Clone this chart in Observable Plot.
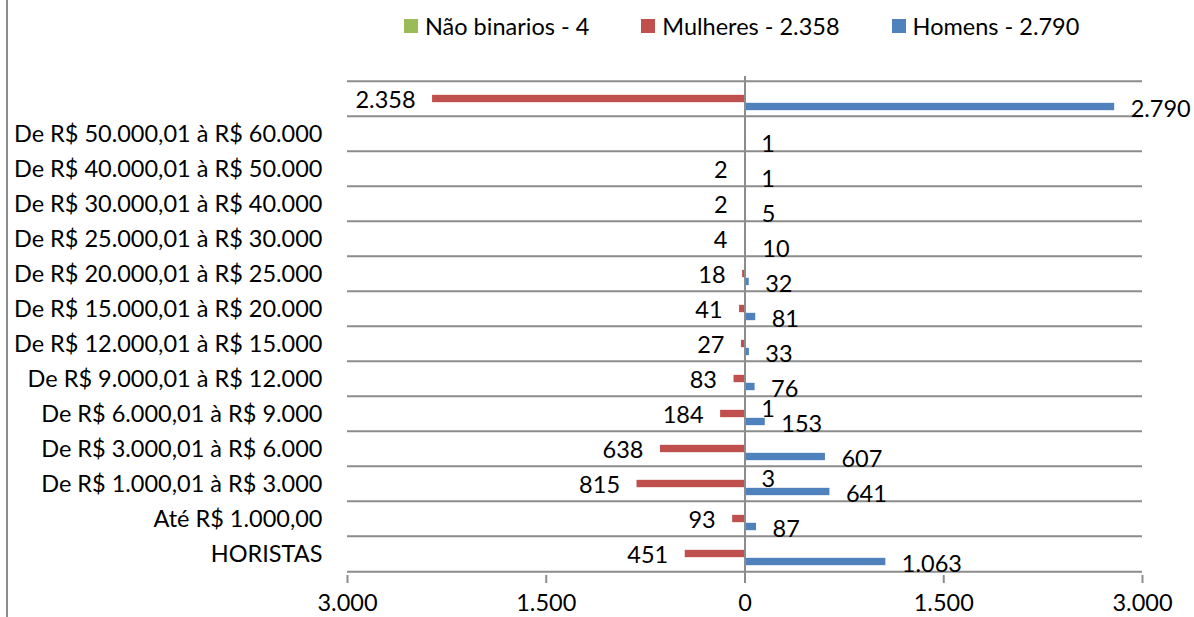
<!DOCTYPE html>
<html>
<head>
<meta charset="utf-8">
<script src="https://cdn.jsdelivr.net/npm/d3@7"></script>
<script src="https://cdn.jsdelivr.net/npm/@observablehq/plot@0.6"></script>
<style>
  html, body { margin: 0; padding: 0; background: #fff; }
  body { width: 1194px; height: 617px; position: relative; overflow: hidden; font-family: Lato, "Noto Sans", sans-serif; }
  #border { position: absolute; left: 6px; top: 0; width: 2px; height: 617px; background: #8c8c8c; }
  #legend { height: 50px; display: flex; align-items: center; padding-left: 404px; gap: 52px; font-size: 23.5px; color: #000; box-sizing: border-box; padding-top: 2px; }
  .item { display: flex; align-items: center; gap: 7px; }
  .sw { width: 14px; height: 14px; display: inline-block; }
  svg { display: block; }
</style>
</head>
<body>
<div id="border"></div>
<div id="legend"></div>
<div id="chart"></div>
<script>
// ---- data ----
const categories = [
  "TOTAL",
  "De R$ 50.000,01 à R$ 60.000",
  "De R$ 40.000,01 à R$ 50.000",
  "De R$ 30.000,01 à R$ 40.000",
  "De R$ 25.000,01 à R$ 30.000",
  "De R$ 20.000,01 à R$ 25.000",
  "De R$ 15.000,01 à R$ 20.000",
  "De R$ 12.000,01 à R$ 15.000",
  "De R$ 9.000,01 à R$ 12.000",
  "De R$ 6.000,01 à R$ 9.000",
  "De R$ 3.000,01 à R$ 6.000",
  "De R$ 1.000,01 à R$ 3.000",
  "Até R$ 1.000,00",
  "HORISTAS"
];
const mulheres = [2358, null, 2, 2, 4, 18, 41, 27, 83, 184, 638, 815, 93, 451];
const homens   = [2790, 1, 1, 5, 10, 32, 81, 33, 76, 153, 607, 641, 87, 1063];
const naoBinarios = [null, null, null, null, null, null, null, null, null, 1, null, 3, null, null];
const seriesNames = ["Não binarios - 4", "Mulheres - 2.358", "Homens - 2.790"];
const seriesColors = ["#9BBB59", "#C0504D", "#4F81BD"];
const xTicks = [-3000, -1500, 0, 1500, 3000];

// ---- legend ----
const legend = document.getElementById("legend");
seriesNames.forEach((name, i) => {
  const it = document.createElement("div");
  it.className = "item";
  it.innerHTML = `<span class="sw" style="background:${seriesColors[i]}"></span><span>${name}</span>`;
  legend.appendChild(it);
});

// ---- table ----
const rowsM = categories.map((c, i) => ({cat: c, v: mulheres[i]})).filter(d => d.v != null);
const rowsH = categories.map((c, i) => ({cat: c, v: homens[i]})).filter(d => d.v != null);
const rowsN = categories.map((c, i) => ({cat: c, v: naoBinarios[i]})).filter(d => d.v != null);

const fmt = d3.formatLocale({decimal: ",", thousands: ".", grouping: [3], currency: ["R$", ""]}).format(",d");

const W = 1194, H = 567, mT = 26, mB = 42, mL = 347, mR = 52;
const bw = (H - mT - mB) / categories.length;
const grid = "#8c8c8c";
const fontSize = 23.5;

const chart = Plot.plot({
  width: W, height: H,
  marginTop: mT, marginBottom: mB, marginLeft: mL, marginRight: mR,
  style: {fontFamily: "Lato, 'Noto Sans', sans-serif", fontSize: fontSize + "px", color: "#000", background: "#fff", overflow: "visible"},
  x: {domain: [-3000, 3000]},
  y: {domain: categories, padding: 0},
  marks: [
    Plot.ruleY(categories, {y: d => d, dy: -bw / 2, stroke: grid, strokeWidth: 2}),
    Plot.ruleY([categories[categories.length - 1]], {y: d => d, dy: bw / 2, stroke: grid, strokeWidth: 2}),
    Plot.barX(rowsN, {x1: 0, x2: d => d.v, y: "cat", fill: seriesColors[0], insetTop: bw / 2 - 12, insetBottom: bw / 2 + 4}),
    Plot.barX(rowsM, {x1: 0, x2: d => -d.v, y: "cat", fill: seriesColors[1], insetTop: bw / 2 - 4, insetBottom: bw / 2 - 4}),
    Plot.barX(rowsH, {x1: 0, x2: d => d.v, y: "cat", fill: seriesColors[2], insetTop: bw / 2 + 4, insetBottom: bw / 2 - 12}),
    Plot.ruleX([0], {stroke: grid, strokeWidth: 2}),
    Plot.text(rowsM, {x: d => -d.v, y: "cat", text: d => fmt(d.v), textAnchor: "end", dx: -17, dy: 1.5, fill: "#000", fontSize}),
    Plot.text(rowsH, {x: d => d.v, y: "cat", text: d => fmt(d.v), textAnchor: "start", dx: 16, dy: 10, fill: "#000", fontSize}),
    Plot.text(rowsN, {x: d => d.v, y: "cat", text: d => fmt(d.v), textAnchor: "start", dx: 16, dy: -5, fill: "#000", fontSize}),
    Plot.axisY({tickSize: 0, tickPadding: 25, label: null, tickFormat: d => d === "TOTAL" ? "" : d, fontSize, fill: "#000"}),
    Plot.axisX({ticks: xTicks, label: null, tickFormat: d => fmt(Math.abs(d)), tickSize: 8, tickPadding: 11, stroke: grid, strokeWidth: 2, fontSize, fill: "#000"})
  ]
});
document.getElementById("chart").appendChild(chart);
</script>
</body>
</html>
